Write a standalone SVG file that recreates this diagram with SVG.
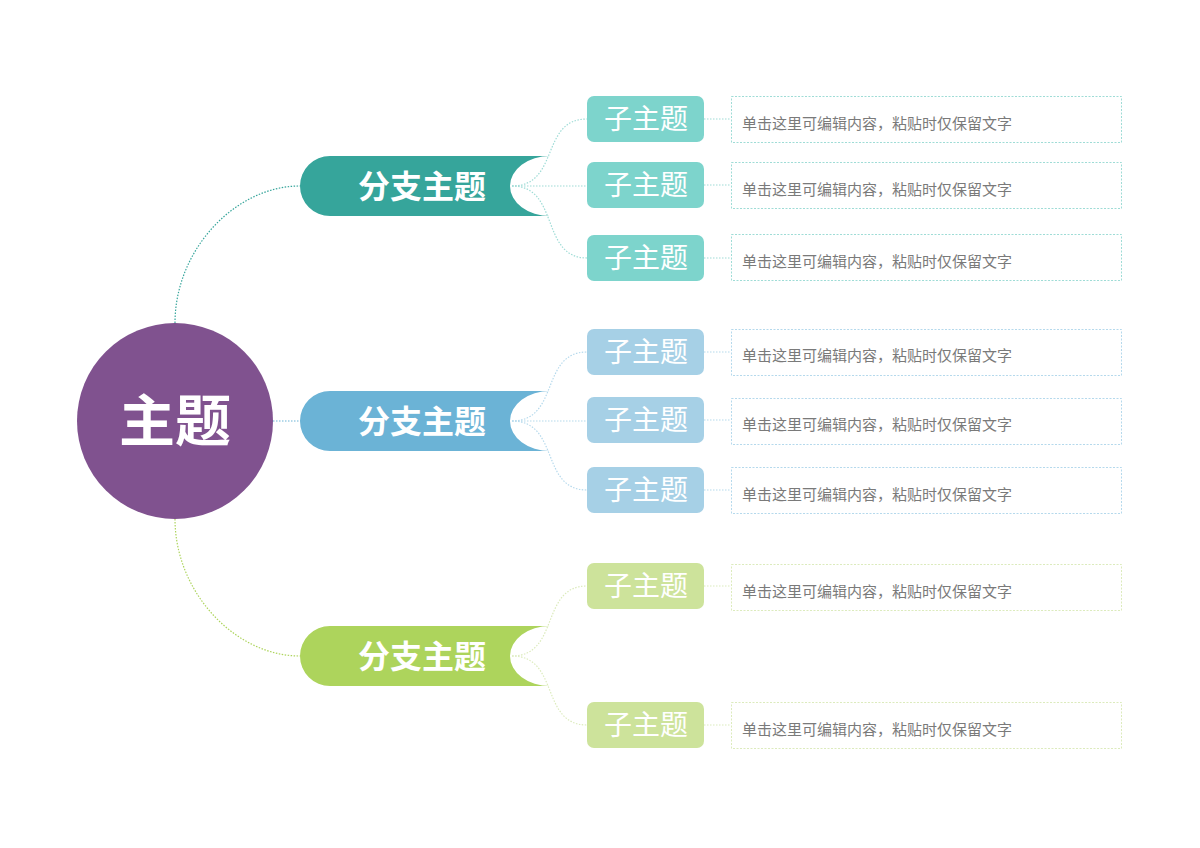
<svg xmlns="http://www.w3.org/2000/svg" width="1200" height="848" viewBox="0 0 1200 848">
<style>
text{font-family:"Noto Sans CJK SC","Noto Sans",sans-serif}
.b{font-size:32px;font-weight:bold;fill:#fff;text-anchor:middle}
.c{font-size:28px;fill:#fff;text-anchor:middle}
.d{font-size:15px;fill:#7a7a7a}
.ln{fill:none;stroke-width:1.2;stroke-dasharray:1.5 1.5}
.box{fill:#fff;stroke-width:1;stroke-dasharray:2 1.5}
</style>
<rect width="1200" height="848" fill="#fff"/>
<g id="connectors">
<path class="ln" stroke="#36a59b" d="M175 323 C175 250 235 186 300 186"/>
<path class="ln" stroke="#6bb3d6" d="M273 421 H300"/>
<path class="ln" stroke="#add45c" d="M175 519 C175 592 235 656 300 656"/>
<g stroke="#9fdcd6"><path class="ln" d="M512 186 C560 186 540 119 587 119"/><path class="ln" d="M512 186 H587"/><path class="ln" d="M512 186 C560 186 540 258 587 258"/>
<path class="ln" d="M704 119 H731 M704 185 H731 M704 258 H731"/></g>
<g stroke="#b5d9ec"><path class="ln" d="M512 421 C560 421 540 352 587 352"/><path class="ln" d="M512 421 H587"/><path class="ln" d="M512 421 C560 421 540 490 587 490"/>
<path class="ln" d="M704 352 H731 M704 420 H731 M704 490 H731"/></g>
<g stroke="#dcebbd"><path class="ln" d="M512 656 C560 656 540 586 587 586"/><path class="ln" d="M512 656 C560 656 540 725 587 725"/>
<path class="ln" d="M704 586 H731 M704 725 H731"/></g>
</g>
<g id="main"><circle cx="175" cy="421" r="98" fill="#80528f"/><text x="175" y="441" style="font-size:56px;font-weight:bold;fill:#fff;text-anchor:middle">主题</text></g>
<g id="b1"><path d="M550 156 H330 A30 30 0 0 0 330 216 H550 A40 30 0 0 1 550 156 Z" fill="#36a59b"/><text class="b" x="422" y="198">分支主题</text></g>
<g id="b2"><path d="M550 391 H330 A30 30 0 0 0 330 451 H550 A40 30 0 0 1 550 391 Z" fill="#6bb3d6"/><text class="b" x="422" y="433">分支主题</text></g>
<g id="b3"><path d="M550 626 H330 A30 30 0 0 0 330 686 H550 A40 30 0 0 1 550 626 Z" fill="#add45c"/><text class="b" x="422" y="668">分支主题</text></g>
<g id="c1"><rect x="587" y="96" width="117" height="46" rx="7" fill="#7dd4cc"/><text class="c" x="646" y="129">子主题</text></g>
<g id="c2"><rect x="587" y="162" width="117" height="46" rx="7" fill="#7dd4cc"/><text class="c" x="646" y="195">子主题</text></g>
<g id="c3"><rect x="587" y="235" width="117" height="46" rx="7" fill="#7dd4cc"/><text class="c" x="646" y="268">子主题</text></g>
<g id="c4"><rect x="587" y="329" width="117" height="46" rx="7" fill="#a6d0e6"/><text class="c" x="646" y="362">子主题</text></g>
<g id="c5"><rect x="587" y="397" width="117" height="46" rx="7" fill="#a6d0e6"/><text class="c" x="646" y="430">子主题</text></g>
<g id="c6"><rect x="587" y="467" width="117" height="46" rx="7" fill="#a6d0e6"/><text class="c" x="646" y="500">子主题</text></g>
<g id="c7"><rect x="587" y="563" width="117" height="46" rx="7" fill="#cde39b"/><text class="c" x="646" y="596">子主题</text></g>
<g id="c8"><rect x="587" y="702" width="117" height="46" rx="7" fill="#cde39b"/><text class="c" x="646" y="735">子主题</text></g>
<g id="t1"><rect class="box" stroke="#9fdcd6" x="731.5" y="96.5" width="390" height="46"/><text class="d" x="742" y="129">单击这里可编辑内容，粘贴时仅保留文字</text></g>
<g id="t2"><rect class="box" stroke="#9fdcd6" x="731.5" y="162.5" width="390" height="46"/><text class="d" x="742" y="195">单击这里可编辑内容，粘贴时仅保留文字</text></g>
<g id="t3"><rect class="box" stroke="#9fdcd6" x="731.5" y="234.5" width="390" height="46"/><text class="d" x="742" y="267">单击这里可编辑内容，粘贴时仅保留文字</text></g>
<g id="t4"><rect class="box" stroke="#b5d9ec" x="731.5" y="329.5" width="390" height="46"/><text class="d" x="742" y="361">单击这里可编辑内容，粘贴时仅保留文字</text></g>
<g id="t5"><rect class="box" stroke="#b5d9ec" x="731.5" y="398.5" width="390" height="46"/><text class="d" x="742" y="430">单击这里可编辑内容，粘贴时仅保留文字</text></g>
<g id="t6"><rect class="box" stroke="#b5d9ec" x="731.5" y="467.5" width="390" height="46"/><text class="d" x="742" y="500">单击这里可编辑内容，粘贴时仅保留文字</text></g>
<g id="t7"><rect class="box" stroke="#dcebbd" x="731.5" y="564.5" width="390" height="46"/><text class="d" x="742" y="597">单击这里可编辑内容，粘贴时仅保留文字</text></g>
<g id="t8"><rect class="box" stroke="#dcebbd" x="731.5" y="702.5" width="390" height="46"/><text class="d" x="742" y="735">单击这里可编辑内容，粘贴时仅保留文字</text></g>
</svg>
